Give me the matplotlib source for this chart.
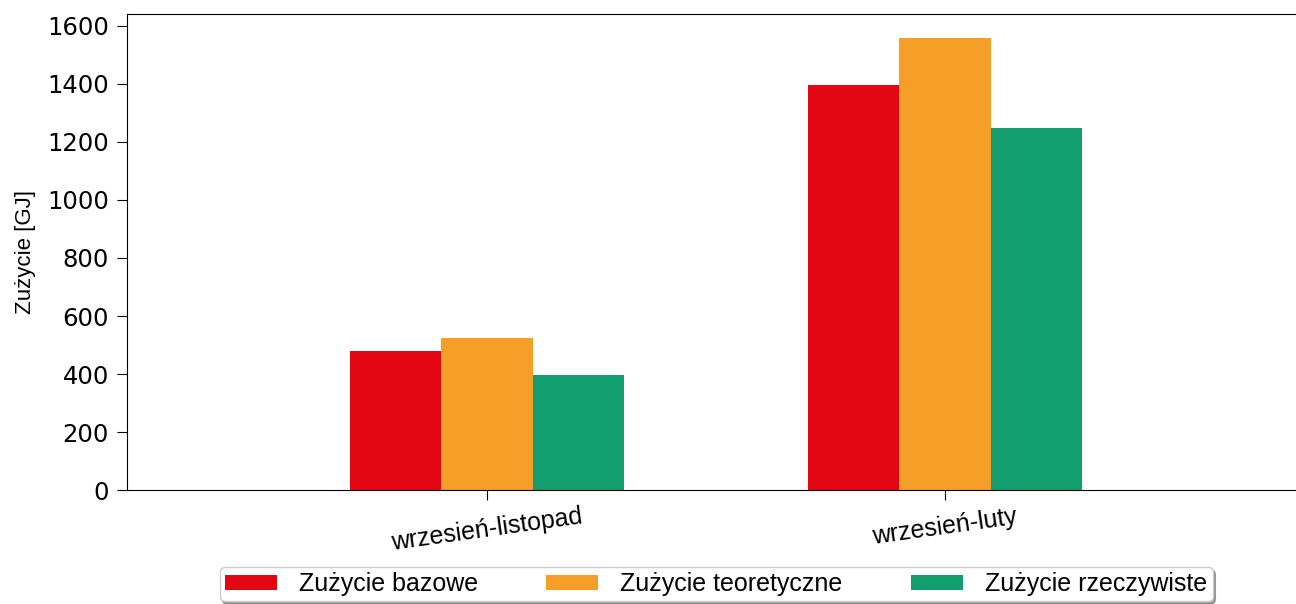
import matplotlib
matplotlib.use('Agg')
import matplotlib.pyplot as plt
import numpy as np

categories = ['wrzesień-listopad', 'wrzesień-luty']
series_names = ['Zużycie bazowe', 'Zużycie teoretyczne', 'Zużycie rzeczywiste']
bazowe = [479, 1397]
teoretyczne = [524, 1557]
rzeczywiste = [398, 1248]
colors = ['#E30613', '#F59E28', '#129E6E']

sans = ['Liberation Sans', 'DejaVu Sans']

fig = plt.figure(figsize=(12.96, 6.04), dpi=100)
ax = fig.add_axes([0.098, 0.1887, 0.909, 0.788])

x = np.arange(len(categories))
width = 0.2
for i, (vals, name) in enumerate(zip([bazowe, teoretyczne, rzeczywiste], series_names)):
    ax.bar(x + (i - 1) * width, vals, width, color=colors[i], label=name)

ax.set_xlim(-0.786, 1.786)
ax.set_ylim(0, 1641)
ax.set_yticks(range(0, 1601, 200))
ax.tick_params(axis='y', labelsize=17.5, length=7, pad=6)
ax.tick_params(axis='x', length=7)
ax.set_xticks(x)
ax.set_xticklabels(categories, rotation=8, fontsize=18, family=sans)
ax.set_ylabel('Zużycie [GJ]', fontsize=16, family=sans, labelpad=8)

ax.legend(loc='upper center', bbox_to_anchor=(0.5, -0.162), ncol=3,
          prop={'family': sans, 'size': 18}, shadow=True, fancybox=True,
          handlelength=2.08, handleheight=0.56, handletextpad=0.88,
          columnspacing=2.75, borderpad=0.2, borderaxespad=0)

fig.savefig('out.png', dpi=100)
